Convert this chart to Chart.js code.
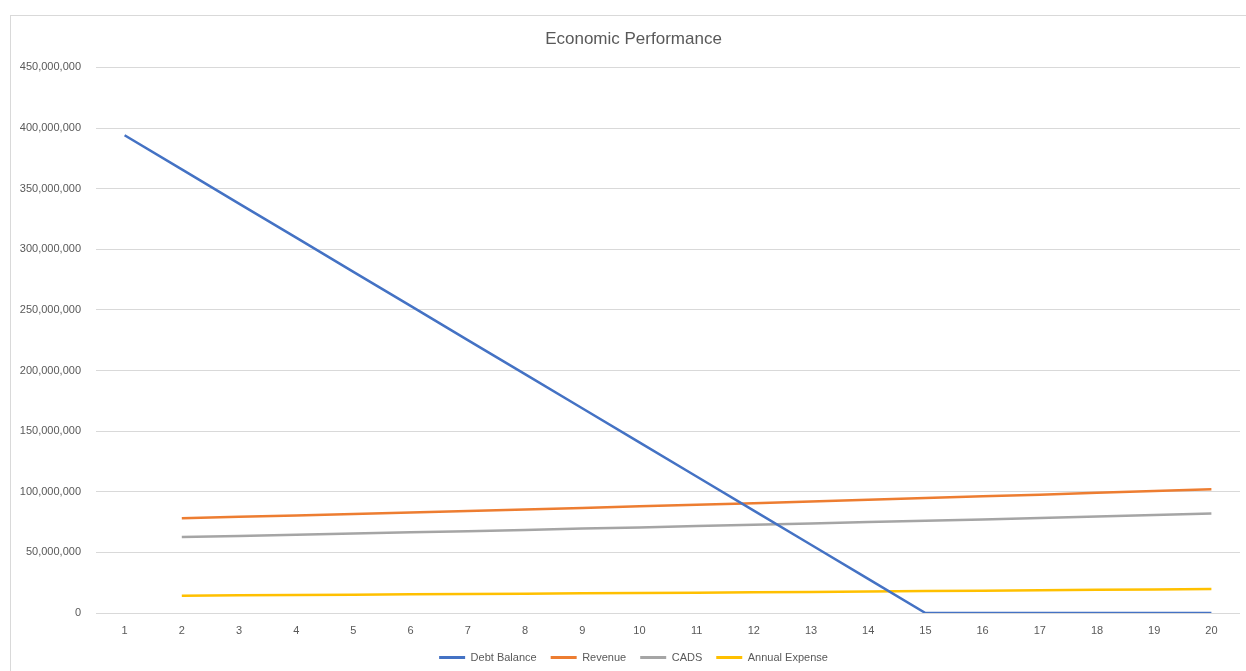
<!DOCTYPE html>
<html>
<head>
<meta charset="utf-8">
<script src="https://cdn.jsdelivr.net/npm/chart.js@4"></script>
<style>
  html, body { margin: 0; padding: 0; background: #fff; overflow: hidden; }
  #frame {
    position: absolute; left: 10px; top: 15px;
    width: 1252px; height: 658px;
    border-left: 1px solid #d9d9d9; border-top: 1px solid #d9d9d9;
  }
  #frame canvas { display: block; }
</style>
</head>
<body>
<div id="frame"><canvas id="chart" width="1251" height="657"></canvas></div>
<script>
// years of the projection
const years = ["1","2","3","4","5","6","7","8","9","10","11","12","13","14","15","16","17","18","19","20"];

// values
const debtBalance = [394000000, 365900000, 337700000, 309600000, 281400000, 253300000, 225100000,
  197000000, 168900000, 140700000, 112600000, 84400000, 56300000, 28100000, 0, 0, 0, 0, 0, 0];
const revenue = [null, 78100000, 79300000, 80500000, 81700000, 82900000, 84100000, 85400000,
  86700000, 88000000, 89300000, 90600000, 92000000, 93400000, 94800000, 96200000, 97600000,
  99100000, 100600000, 102100000];
const cads = [null, 62700000, 63600000, 64600000, 65600000, 66500000, 67500000, 68500000,
  69600000, 70600000, 71700000, 72800000, 73900000, 75000000, 76100000, 77200000, 78400000,
  79600000, 80800000, 82000000];
const annualExpense = [null, 14300000, 14600000, 14800000, 15100000, 15400000, 15600000, 15900000,
  16200000, 16500000, 16800000, 17100000, 17400000, 17700000, 18100000, 18400000, 18700000,
  19100000, 19400000, 19800000];

const font = "'Liberation Sans', Arial, sans-serif";
const textColor = "#595959";

function series(label, data, color) {
  return {
    label: label,
    data: data,
    borderColor: color,
    backgroundColor: color,
    borderWidth: 2.5,
    pointRadius: 0,
    pointHoverRadius: 0,
    tension: 0,
    spanGaps: false,
  };
}

new Chart(document.getElementById("chart").getContext("2d"), {
  type: "line",
  data: {
    labels: years,
    datasets: [
      series("Debt Balance", debtBalance, "#4472C4"),
      series("Revenue", revenue, "#ED7D31"),
      series("CADS", cads, "#A5A5A5"),
      series("Annual Expense", annualExpense, "#FFC000"),
    ],
  },
  options: {
    responsive: false,
    animation: false,
    layout: { padding: { top: 6, right: 6, left: 0, bottom: 0 } },
    plugins: {
      tooltip: { enabled: false },
      title: {
        display: true,
        text: "Economic Performance",
        color: textColor,
        font: { family: font, size: 17, weight: "normal" },
        padding: { top: 7, bottom: 18 },
      },
      legend: {
        position: "bottom",
        labels: {
          color: textColor,
          font: { family: font, size: 11 },
          boxWidth: 26,
          boxHeight: 3,
          padding: 14,
          generateLabels: (chart) =>
            Chart.defaults.plugins.legend.labels.generateLabels(chart).map((l) => {
              l.lineWidth = 0;
              return l;
            }),
        },
      },
    },
    scales: {
      x: {
        offset: true,
        afterFit: (scale) => { scale.height = 25; },
        grid: { display: false, drawTicks: false },
        border: { display: false },
        ticks: {
          color: textColor,
          font: { family: font, size: 11 },
          padding: 11,
          maxRotation: 0,
          autoSkip: false,
        },
      },
      y: {
        min: 0,
        max: 450000000,
        afterFit: (scale) => { scale.width = 85; },
        grid: { color: "#d9d9d9", lineWidth: 1, drawTicks: false },
        border: { display: false },
        ticks: {
          stepSize: 50000000,
          color: textColor,
          font: { family: font, size: 11 },
          padding: 15,
          callback: (v) => v.toLocaleString("en-US"),
        },
      },
      // empty strip on the right so the gridlines stop short of the window edge
      yRight: {
        type: "linear",
        position: "right",
        afterFit: (scale) => { scale.width = 16; },
        grid: { display: false, drawTicks: false },
        border: { display: false },
        ticks: { display: false },
      },
    },
  },
});
</script>
</body>
</html>
